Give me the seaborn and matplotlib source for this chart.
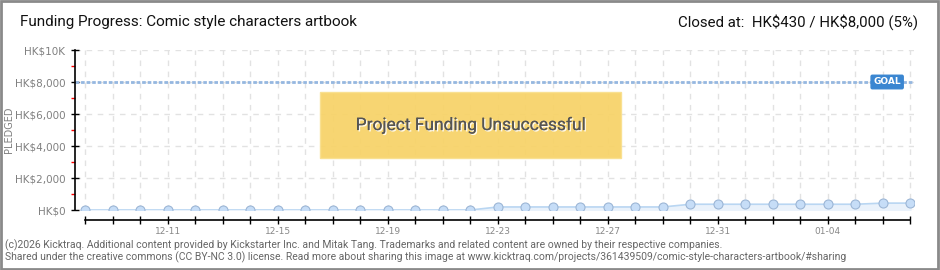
import pandas as pd
import matplotlib.pyplot as plt
import matplotlib.patheffects as pe
from matplotlib.patches import Rectangle
import seaborn as sns

# Daily pledged totals (HK$), 12-08 .. 01-07
dates = pd.date_range("2025-12-08", "2026-01-07", freq="D")
pledged = [0, 0, 0, 0, 0, 0, 0, 0, 0, 0, 0, 0, 0, 0, 0,
           190, 190, 190, 190, 190, 190, 190,
           360, 360, 360, 360, 360, 360, 360,
           430, 430]
goal = 8000
y_ticks = [0, 2000, 4000, 6000, 8000, 10000]
y_labels = ["HK$0", "HK$2,000", "HK$4,000", "HK$6,000", "HK$8,000", "HK$10K"]
y_minor = [1000, 3000, 5000, 7000, 9000]

df = pd.DataFrame({"day": range(len(dates)), "pledged": pledged,
                   "label": dates.strftime("%m-%d")})

sns.set_style("white")
narrow = ["Roboto", "DejaVu Sans"]

fig = plt.figure(figsize=(9.4, 2.7), dpi=100)
W, H = 940, 270
ax = fig.add_axes([75 / W, (H - 210) / H, 839 / W, 160 / H])

# border around the whole image
fig.patches.append(Rectangle((0.001, 0.002), 0.997, 0.994, transform=fig.transFigure,
                             fill=False, edgecolor="#8a8a8a", linewidth=2))

ax.fill_between(df["day"], df["pledged"], color="#eaf2fb", zorder=1)
sns.lineplot(data=df, x="day", y="pledged", ax=ax, color="#b9d6f2", linewidth=1.2,
             marker="o", markersize=6.5, markerfacecolor="#c6ddf7",
             markeredgecolor="#9cb6d6", markeredgewidth=0.8, zorder=3)

# goal line
ax.axhline(goal, color="#95b7e0", linewidth=2.0, linestyle=(0, (1.3, 0.7)), zorder=2)
ax.text(0.968, goal, "GOAL", transform=ax.get_yaxis_transform(), ha="center", va="center",
        fontsize=6.5, color="white", fontweight="bold", zorder=5,
        bbox=dict(boxstyle="round,pad=0.25,rounding_size=0.15", fc="#3a86d1", ec="#3a86d1"))

ax.set_xlim(-0.38, 30.13)
ax.set_ylim(0, 10000)

ax.set_xticks(df["day"])
ax.set_xticklabels([lab if i % 4 == 3 else "" for i, lab in enumerate(df["label"])])
ax.set_yticks(y_ticks)
ax.set_yticklabels(y_labels)
ax.set_yticks(y_minor, minor=True)

ax.grid(True, color="#e2e2e2", linestyle=(0, (4, 4)), linewidth=1)
ax.set_axisbelow(True)

for s in ["top", "right"]:
    ax.spines[s].set_visible(False)
ax.spines["left"].set_color("black")
ax.spines["left"].set_linewidth(1.2)
ax.spines["bottom"].set_position(("outward", 7.5))
ax.spines["bottom"].set_bounds(0, 30)
ax.spines["bottom"].set_color("black")
ax.spines["bottom"].set_linewidth(1.2)

ax.tick_params(axis="x", which="major", bottom=True, direction="inout", length=6, width=1,
               color="black", pad=1.5, labelsize=6.5, labelcolor="#888888")
ax.tick_params(axis="y", which="major", left=True, direction="inout", length=6, width=1,
               color="black", pad=4, labelsize=7.5, labelcolor="#808080")
ax.tick_params(axis="y", which="minor", left=True, direction="out", length=3, width=1, color="red")

ax.set_xlabel("")
ax.set_ylabel("PLEDGED", fontsize=7, color="#808080")
ax.yaxis.set_label_coords(-61 / 839, 0.5)

# unsuccessful banner
ax.add_patch(Rectangle((0.292, 0.325), 0.359, 0.4125, transform=ax.transAxes,
                       facecolor="#f7d36a", edgecolor="#f9e08f", linewidth=1, alpha=0.95, zorder=4))
ax.text(0.4717, 0.531, "Project Funding Unsuccessful", transform=ax.transAxes,
        ha="center", va="center", fontsize=12.5, color="#555555", family=narrow, zorder=6,
        path_effects=[pe.withSimplePatchShadow(offset=(1, -1), shadow_rgbFace="white", alpha=0.9),
                      pe.Normal()])

# header
fig.text(20 / W, 1 - 22 / H, "Funding Progress: Comic style characters artbook",
         ha="left", va="center", fontsize=11, color="#111111", family=narrow)
fig.text(918 / W, 1 - 22 / H, r"Closed at:  HK\$430 / HK\$8,000 (5%)",
         ha="right", va="center", fontsize=10.8, color="#111111", family=narrow)

# footer
fig.text(5 / W, 1 - 245 / H,
         "(c)2026 Kicktraq. Additional content provided by Kickstarter Inc. and Mitak Tang. "
         "Trademarks and related content are owned by their respective companies.",
         ha="left", va="center", fontsize=7.5, color="#666666", family=narrow)
fig.text(5 / W, 1 - 257 / H,
         "Shared under the creative commons (CC BY-NC 3.0) license. Read more about sharing this image "
         "at www.kicktraq.com/projects/361439509/comic-style-characters-artbook/#sharing",
         ha="left", va="center", fontsize=7.5, color="#666666", family=narrow)

fig.savefig("out.png", dpi=100, facecolor="white")
plt.close(fig)
